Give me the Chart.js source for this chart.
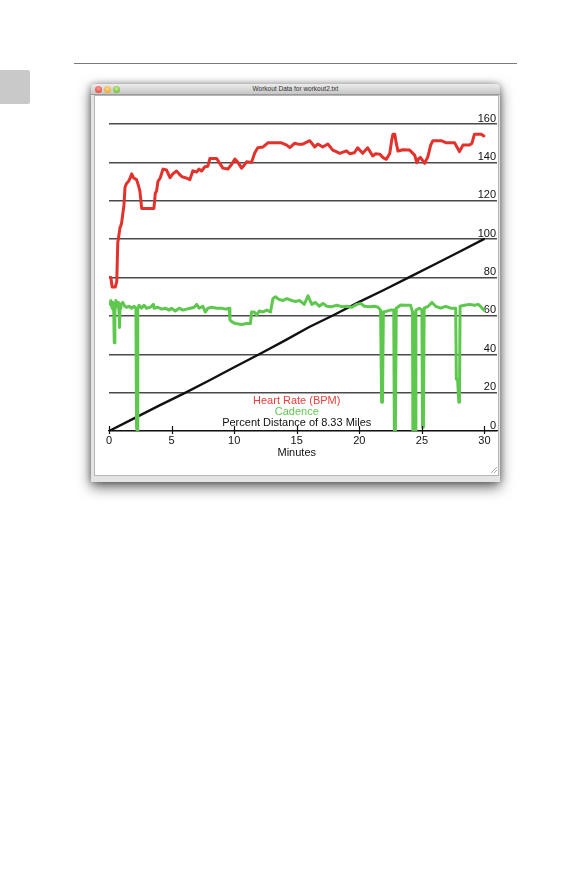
<!DOCTYPE html>
<html>
<head>
<meta charset="utf-8">
<script src="https://cdn.jsdelivr.net/npm/chart.js@4.4.1/dist/chart.umd.min.js"></script>
<style>
  html, body { margin: 0; padding: 0; background: #fff; width: 586px; height: 888px; overflow: hidden; }
  body { position: relative; font-family: "Liberation Sans", Arial, sans-serif; }
  #rule { position: absolute; left: 74px; top: 62.5px; width: 443px; height: 1.5px; background: #7a7a7a; }
  #tab { position: absolute; left: 0; top: 70px; width: 30px; height: 34px; background: #c9c9c9; border-radius: 0 2px 2px 0; }
  #win { position: absolute; left: 91px; top: 84px; width: 409px; height: 398px; background: #e4e4e4;
         box-shadow: 0 5px 14px rgba(0,0,0,0.6), 0 0 6px rgba(0,0,0,0.35); border-radius: 4px 4px 0 0; }
  #titlebar { position: absolute; left: 0; top: 0; width: 409px; height: 10px;
              background: linear-gradient(#ececec, #c6c6c6); border-bottom: 1px solid #9a9a9a; border-radius: 4px 4px 0 0;
              font-size: 6.5px; line-height: 10px; text-align: center; color: #333; }
  .light { position: absolute; top: 1.5px; width: 7px; height: 7px; border-radius: 50%; }
  #panel { position: absolute; left: 2.5px; top: 11px; width: 403px; height: 379px; background: #fff; border: 1px solid #b5b5b5; }
  #grip { position: absolute; right: 3px; bottom: 9px; width: 6px; height: 6px;
          background: linear-gradient(135deg, transparent 45%, #aaa 50%, transparent 55%, transparent 70%, #aaa 75%, transparent 80%); }
  #chartBox { position: absolute; left: 94px; top: 96px; width: 404px; height: 379px; }
</style>
</head>
<body>
<div id="rule"></div>
<div id="tab"></div>
<div id="win">
  <div id="titlebar">Workout Data for workout2.txt
    <div class="light" style="left:3.5px;background:radial-gradient(circle at 50% 35%, #ff9b8f, #d8362a);"></div>
    <div class="light" style="left:12.5px;background:radial-gradient(circle at 50% 35%, #ffd98a, #e19a1c);"></div>
    <div class="light" style="left:21.5px;background:radial-gradient(circle at 50% 35%, #c5f08a, #5aa92a);"></div>
  </div>
  <div id="panel"></div>
  <div id="grip"></div>
</div>
<div id="chartBox"><canvas id="c" width="404" height="379"></canvas></div>
<script>
// ---- data ----
const seriesLabels = ["Heart Rate (BPM)", "Cadence", "Percent Distance of 8.33 Miles"];
const xAxisTitle = "Minutes";
const xTickLabels = [0, 5, 10, 15, 20, 25, 30];
const yTickLabels = [0, 20, 40, 60, 80, 100, 120, 140, 160];

const hrMinutes = [0.0,0.15,0.25,0.5,0.62,0.7,0.88,1.0,1.12,1.2,1.28,1.4,1.55,1.7,1.81,1.95,2.2,2.35,2.47,2.61,3.59,3.7,3.8,3.91,4.1,4.31,4.6,4.87,5.1,5.4,5.6,5.8,6.1,6.46,6.7,7.0,7.2,7.4,7.66,7.9,8.06,8.6,8.8,9.1,9.5,9.8,10.06,10.3,10.59,10.8,10.99,11.39,11.65,11.89,12.29,12.69,13.78,14.2,14.45,14.84,15.1,15.48,15.88,16.04,16.44,16.68,17.08,17.48,17.88,18.2,18.44,18.97,19.23,19.6,19.87,20.27,20.67,21.07,21.3,21.63,21.9,22.16,22.43,22.6,22.69,22.83,22.95,23.09,23.49,24.02,24.42,24.6,24.75,24.88,25.22,25.48,25.7,25.88,26.55,26.95,27.61,27.8,28.0,28.28,28.8,29.0,29.2,29.74,29.95];
const hrValues  = [80,80,75,75,78,98,106,108,114,118,127,129,130,132,134,132,131,128,125,116,116,124,125,130,132,136.5,136,132,134,135.5,134,132.6,132,131,135.6,135,136.5,135.5,137.7,138,142,142,140,137,136.5,139,141.7,140,137,138.5,140.3,140,145,147.6,148,150.2,150.2,149,147.7,150,149.5,149.5,150.8,151.3,148,149.6,148,149.6,146.4,145.5,144.7,146,144.5,145,147.6,144.7,147.6,143.3,144.5,144.3,142.5,141.6,144.6,152,154.7,154.7,150,145.9,146.6,146.4,143.8,139.8,142,142.6,139.5,143,149,151.3,151.3,150.2,150.2,148,145.6,149,149,150,154.7,154.7,153.8];

const cadMinutes = [0.0,0.08,0.15,0.25,0.3,0.38,0.42,0.47,0.55,0.65,0.75,0.8,0.84,0.88,0.95,1.1,1.25,1.4,1.6,1.8,2.0,2.15,2.2,2.25,2.3,2.4,2.6,2.8,3.0,3.3,3.55,3.6,3.9,4.2,4.5,4.8,5.0,5.3,5.6,5.9,6.2,6.5,6.8,7.0,7.2,7.5,7.7,7.9,8.2,8.6,9.0,9.3,9.6,9.66,9.8,10.1,10.6,11.0,11.3,11.39,11.6,11.8,12.0,12.3,12.6,12.9,13.1,13.3,13.6,13.9,14.2,14.6,14.9,15.24,15.6,15.9,16.2,16.5,16.8,17.1,17.4,17.8,18.2,18.6,19.0,19.4,19.8,20.1,20.4,20.8,21.2,21.5,21.7,21.78,21.85,21.92,22.2,22.5,22.75,22.8,22.88,22.95,23.3,23.7,24.1,24.25,24.28,24.33,24.38,24.43,24.48,24.52,24.8,25.0,25.05,25.12,25.18,25.5,25.8,26.1,26.5,26.9,27.3,27.7,27.75,27.85,27.95,28.0,28.05,28.4,28.8,29.2,29.5,29.75,29.95];
const cadValues  = [67,66,68,64,67,62,46,62,68,65,67,62,54,64,66,67,65,64.5,65,64,65,64,2,0,64,65.5,64,65.5,64,64.5,66,64,64.5,63.5,64,63,64,62.5,64,63,63.5,64,64.5,66,64,65,62,64,64.5,64,64,63.5,64,58,57,56,55.5,56,56,62,62,60.5,62.5,62,63,62,69,70,68.5,68,69,68,67.5,68,66,70.5,66,67,65,66.5,65,64.8,65.5,64.8,65,64.5,66,66.5,65,64.7,65,64.5,63,15,15,62,62.5,63,63,0,0,64,65.7,65.5,65.5,62,0,0,60,0,0,63,64,63,2,2,64,65,67,65,64,65,64,64,27,27,15,15,65,65.5,66,65.5,66,64.5,63];

const distMinutes = [0, 2, 4, 6, 8, 10, 12, 14, 16, 18, 20, 22, 24, 26, 28, 29.95];
const distValues  = [0, 6.6, 13.2, 19.6, 26.3, 33.2, 40, 47, 54.2, 60.6, 67.3, 73.6, 80.2, 86.8, 93.4, 100];

// ---- helpers ----
const pairs = (xs, ys) => xs.map((x, i) => ({ x: x, y: ys[i] }));
const FONT = "'Liberation Sans', Arial, Helvetica, sans-serif";

const overlay = {
  id: 'overlay',
  afterDraw(chart) {
    const ctx = chart.ctx;
    const xs = chart.scales.x;
    const area = chart.chartArea;
    ctx.save();
    // small tick marks crossing the x axis
    ctx.strokeStyle = '#111';
    ctx.lineWidth = 1.2;
    xTickLabels.forEach(v => {
      const px = Math.round(xs.getPixelForValue(v)) + 0.5;
      ctx.beginPath();
      ctx.moveTo(px, area.bottom - 5);
      ctx.lineTo(px, area.bottom + 3);
      ctx.stroke();
    });
    const cx = (xs.getPixelForValue(xTickLabels[0]) + xs.getPixelForValue(xTickLabels[xTickLabels.length - 1])) / 2;
    ctx.font = '11px ' + FONT;
    ctx.textAlign = 'center';
    ctx.textBaseline = 'middle';
    // axis title
    ctx.fillStyle = '#111';
    ctx.fillText(xAxisTitle, cx, area.bottom + 21.5);
    // stacked legend text
    const offs = [30.5, 19.5, 8.5];
    chart.data.datasets.forEach((ds, i) => {
      ctx.fillStyle = ds.legendColor;
      ctx.fillText(ds.label, cx, area.bottom - offs[i]);
    });
    ctx.restore();
  }
};

new Chart(document.getElementById('c'), {
  type: 'line',
  data: {
    datasets: [
      { label: seriesLabels[0], data: pairs(hrMinutes, hrValues), borderColor: '#e3312b', legendColor: '#e8403a', borderWidth: 3 },
      { label: seriesLabels[1], data: pairs(cadMinutes, cadValues), borderColor: '#5ec84e', legendColor: '#5ec84e', borderWidth: 3 },
      { label: seriesLabels[2], data: pairs(distMinutes, distValues), borderColor: '#111111', legendColor: '#111111', borderWidth: 2.4 }
    ]
  },
  options: {
    responsive: false,
    animation: false,
    events: [],
    layout: { padding: { left: 15, right: 1, top: 28, bottom: 0 } },
    elements: { point: { radius: 0 }, line: { tension: 0, borderJoinStyle: 'round', borderCapStyle: 'round' } },
    plugins: { legend: { display: false }, tooltip: { enabled: false } },
    scales: {
      x: {
        type: 'linear',
        min: 0, max: 31,
        afterFit(s) { s.height = 44; },
        afterBuildTicks(s) { s.ticks = xTickLabels.map(v => ({ value: v })); },
        grid: { display: false, drawTicks: false },
        border: { display: true, color: '#111', width: 1.3 },
        ticks: { padding: 3, color: '#111', font: { family: FONT, size: 11 }, maxRotation: 0, includeBounds: false }
      },
      y: {
        position: 'right',
        min: 0, max: 160,
        afterFit(s) { s.width = 0; },
        afterBuildTicks(s) { s.ticks = yTickLabels.map(v => ({ value: v })); },
        grid: { color: '#4a4a4a', lineWidth: 1.5, drawTicks: false },
        border: { display: false },
        ticks: { mirror: true, padding: -1, labelOffset: -5.5, color: '#111', font: { family: FONT, size: 11 } }
      }
    }
  },
  plugins: [overlay]
});
</script>
</body>
</html>
